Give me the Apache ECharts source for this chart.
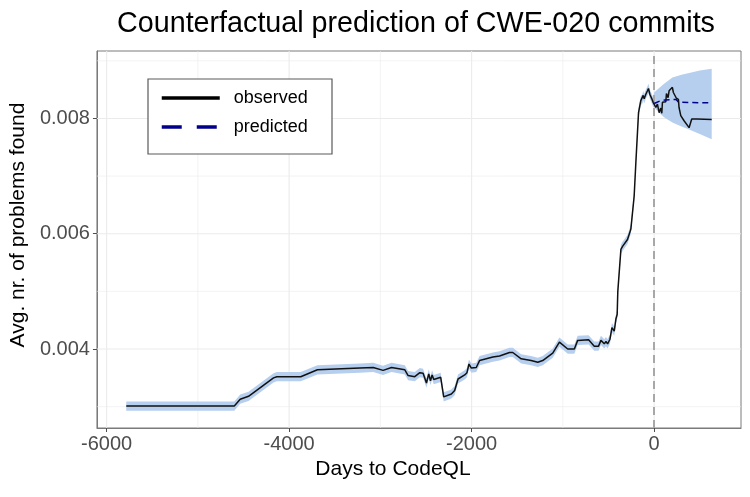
<!DOCTYPE html>
<html><head><meta charset="utf-8">
<script src="https://cdn.jsdelivr.net/npm/echarts@6/dist/echarts.min.js"></script>
<style>html,body{margin:0;padding:0;background:#fff}#c{width:750px;height:497px}</style>
</head><body><div id="c"></div>
<script>
const titleText = 'Counterfactual prediction of CWE-020 commits';
const xTitle = 'Days to CodeQL';
const yTitle = 'Avg. nr. of problems found';
const seriesNames = ['observed', 'predicted'];
const xTicks = [-6000, -4000, -2000, 0];
const xMinor = [-5000, -3000, -1000];
const yTicks = [0.004, 0.006, 0.008];
const yMinor = [0.003, 0.005, 0.007, 0.009];
const interventionDay = 0;

const obsDays = [-5785, -4601, -4536, -4445, -4171, -4135, -3873, -3690, -3224, -3078, -2970, -2878, -2732, -2696, -2623, -2568, -2532, -2495, -2470, -2451, -2433, -2415, -2339, -2306, -2222, -2186, -2149, -2076, -2051, -2029, -2003, -1949, -1913, -1767, -1694, -1585, -1549, -1457, -1348, -1275, -1221, -1111, -1038, -947, -874, -838, -718, -656, -609, -583, -546, -528, -510, -484, -462, -437, -419, -405, -398, -364, -346, -292, -255, -219, -200, -171, -146, -128, -120, -109, -91, -73, -62, -47, -25, -11, 0,
  19, 36, 55, 73, 84, 91, 128, 135, 145, 153, 164, 183, 200, 211, 226, 244, 266, 273, 292, 328, 383, 404, 412, 473, 631];
const obsVals = [0.00301, 0.00301, 0.00313, 0.00318, 0.00350, 0.00352, 0.00352, 0.00364, 0.00367, 0.00368, 0.00363, 0.00368, 0.00364, 0.00354, 0.00352, 0.00359, 0.00358, 0.00341, 0.00357, 0.00345, 0.00355, 0.00347, 0.00351, 0.00317, 0.00322, 0.00328, 0.00348, 0.00355, 0.00359, 0.00374, 0.00367, 0.00368, 0.00380, 0.00386, 0.00388, 0.00394, 0.00394, 0.00383, 0.00380, 0.00377, 0.00380, 0.00393, 0.00412, 0.00400, 0.00400, 0.00415, 0.00416, 0.00405, 0.00405, 0.00415, 0.00409, 0.00413, 0.00409, 0.00417, 0.00437, 0.00431, 0.00452, 0.00460, 0.00500, 0.00573, 0.00578, 0.00590, 0.00608, 0.00665, 0.00724, 0.00810, 0.00831, 0.00834, 0.00840, 0.00834, 0.00842, 0.00848, 0.00852, 0.00842, 0.00834, 0.00828, 0.00825,
  0.00819, 0.00825, 0.00810, 0.00818, 0.00809, 0.00828, 0.00829, 0.00843, 0.00845, 0.00836, 0.00848, 0.00849, 0.00854, 0.00845, 0.00845, 0.00835, 0.00833, 0.00819, 0.00805, 0.00796, 0.00784, 0.00781, 0.00799, 0.00799, 0.00798];

const predDays = [0, 60, 120, 240, 270, 631];
const predVals = [0.00826, 0.00830, 0.00832, 0.00833, 0.00828, 0.00827];

// credible band: constant width around the fit before the intervention, widening after it
const preBandHalf = 0.00008;
const postBandDays = [0, 55, 109, 200, 300, 383, 500, 631];
const postBandLow = [0.00819, 0.00810, 0.00802, 0.00793, 0.00786, 0.00781, 0.00773, 0.00764];
const postBandHigh = [0.00845, 0.00853, 0.00860, 0.00871, 0.00876, 0.00879, 0.00883, 0.00886];

const FONT = "'Liberation Sans', Arial, Helvetica, sans-serif";
const bandData = [];
obsDays.forEach((d, i) => {
  if (d < 0) bandData.push([d, obsVals[i] - preBandHalf, obsVals[i] + preBandHalf]);
});
postBandDays.forEach((d, i) => bandData.push([d, postBandLow[i], postBandHigh[i]]));
const obsData = obsDays.map((d, i) => [d, obsVals[i]]);
const predData = predDays.map((d, i) => [d, predVals[i]]);

function gridRender(params, api) {
  if (params.dataIndex !== 0) return null;
  const cs = params.coordSys;
  const x0 = cs.x, x1 = cs.x + cs.width, y0 = cs.y, y1 = cs.y + cs.height;
  const refY = yTicks[0], refX = xTicks[0];
  const children = [];
  const vline = (v, w) => {
    const x = api.coord([v, refY])[0];
    children.push({ type: 'line', shape: { x1: x, y1: y0, x2: x, y2: y1 }, style: { stroke: '#ebebeb', lineWidth: w } });
  };
  const hline = (v, w) => {
    const y = api.coord([refX, v])[1];
    children.push({ type: 'line', shape: { x1: x0, y1: y, x2: x1, y2: y }, style: { stroke: '#ebebeb', lineWidth: w } });
  };
  xMinor.forEach(v => vline(v, 0.6));
  yMinor.forEach(v => hline(v, 0.6));
  xTicks.forEach(v => vline(v, 1.1));
  yTicks.forEach(v => hline(v, 1.1));
  return { type: 'group', children };
}

const chart = echarts.init(document.getElementById('c'), null, { renderer: 'canvas' });
chart.setOption({
  animation: false,
  backgroundColor: '#ffffff',
  title: {
    text: titleText, left: 411, top: 5, textAlign: 'center',
    textStyle: { fontFamily: FONT, fontSize: 28.7, fontWeight: 'normal', color: '#000' }
  },
  grid: { left: 96, right: 9, top: 51, bottom: 69, show: true, borderColor: '#7a7a7a', borderWidth: 1, backgroundColor: 'transparent' },
  xAxis: {
    type: 'value', min: -6106, max: 952,
    name: xTitle, nameLocation: 'middle', nameGap: 31,
    nameTextStyle: { fontFamily: FONT, fontSize: 21, color: '#000', padding: [0, 52, 0, 0] },
    axisLine: { show: true, onZero: false, lineStyle: { color: '#7a7a7a', width: 1 } },
    axisTick: { show: true, length: 4, lineStyle: { color: '#4d4d4d' }, customValues: xTicks },
    axisLabel: { fontFamily: FONT, fontSize: 20, color: '#4d4d4d', margin: 6, customValues: xTicks, formatter: v => String(v) },
    splitLine: { show: false }
  },
  yAxis: {
    type: 'value', min: 0.00263, max: 0.00917,
    name: yTitle, nameLocation: 'middle', nameGap: 66,
    nameTextStyle: { fontFamily: FONT, fontSize: 21, color: '#000', padding: [0, 0, 0, 29] },
    axisLine: { show: true, onZero: false, lineStyle: { color: '#7a7a7a', width: 1 } },
    axisTick: { show: true, length: 4, lineStyle: { color: '#4d4d4d' }, customValues: yTicks },
    axisLabel: { fontFamily: FONT, fontSize: 20, color: '#4d4d4d', margin: 7, customValues: yTicks, formatter: v => v.toFixed(3) },
    splitLine: { show: false }
  },
  legend: {
    orient: 'vertical', left: 160, top: 89, padding: 0,
    itemWidth: 58, itemHeight: 14, itemGap: 11,
    textStyle: { fontFamily: FONT, fontSize: 18, color: '#000', padding: [0, 0, 0, 9] },
    data: [
      { name: seriesNames[0], lineStyle: { width: 3.5, color: '#000000' }, itemStyle: { opacity: 0 } },
      { name: seriesNames[1], lineStyle: { width: 3.5, color: '#00008b', type: [20, 15] }, itemStyle: { opacity: 0 } }
    ],
    selectedMode: false
  },
  graphic: [{
    type: 'rect', z: 3, silent: true,
    shape: { x: 148, y: 79, width: 184, height: 75 },
    style: { fill: '#ffffff', stroke: '#5a5a5a', lineWidth: 1.2 }
  }],
  series: [
    {
      name: 'gridlines', type: 'custom', data: [[xTicks[0], yTicks[0]]], z: 1, silent: true,
      renderItem: gridRender
    },
    {
      name: 'band', type: 'custom', data: bandData, z: 2, silent: true,
      encode: { x: 0, y: [1, 2] },
      renderItem: (params, api) => {
        if (params.dataIndex !== 0) return null;
        const top = bandData.map(p => api.coord([p[0], p[2]]));
        const bottom = bandData.slice().reverse().map(p => api.coord([p[0], p[1]]));
        return { type: 'polygon', shape: { points: top.concat(bottom) }, style: { fill: '#b7cfee' } };
      }
    },
    {
      name: 'zero', type: 'line', data: [], z: 3, silent: true,
      markLine: { silent: true, symbol: 'none', z: 3, label: { show: false },
        lineStyle: { color: '#a8a8a8', type: [8, 5], width: 2 }, data: [{ xAxis: interventionDay }] }
    },
    {
      name: seriesNames[0], type: 'line', data: obsData, symbol: 'none', z: 4,
      lineStyle: { color: '#111111', width: 1.5 }, itemStyle: { color: '#000' }
    },
    {
      name: seriesNames[1], type: 'line', data: predData, symbol: 'none', z: 5,
      lineStyle: { color: '#00008b', width: 1.5, type: [6, 4] }, itemStyle: { color: '#00008b' }
    }
  ]
});
</script></body></html>
